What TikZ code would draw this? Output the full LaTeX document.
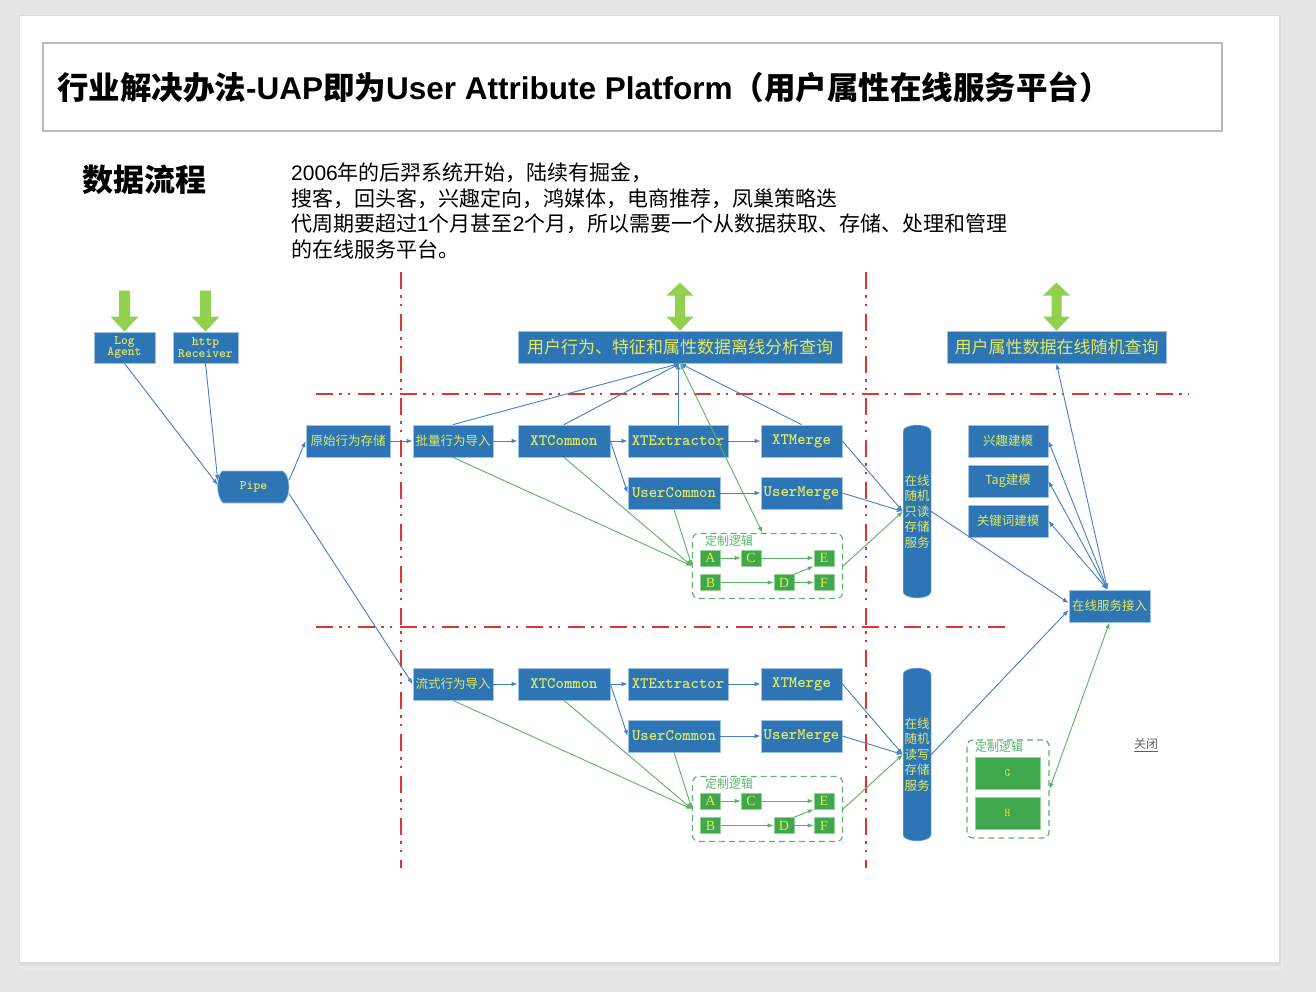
\documentclass[tikz,border=0pt]{standalone}
\usepackage{fontspec}
\setmainfont{Liberation Sans}
\newfontfamily\cjk{Noto Sans CJK SC}
\newfontfamily\tmsfont{Liberation Serif}
\usetikzlibrary{arrows.meta,calc}
\definecolor{bgray}{RGB}{229,229,229}
\definecolor{boxblue}{RGB}{46,117,182}
\definecolor{boxedge}{RGB}{157,195,230}
\definecolor{boxtext}{RGB}{225,235,95}
\definecolor{linkblue}{RGB}{68,128,196}
\definecolor{linkgreen}{RGB}{92,178,100}
\definecolor{cgreen}{RGB}{64,168,76}
\definecolor{cgreenedge}{RGB}{150,210,150}
\definecolor{dashgreen}{RGB}{90,180,110}
\definecolor{arrgreen}{RGB}{146,208,80}
\definecolor{redline}{RGB}{222,52,52}
\tikzset{
  bbox/.style={fill=boxblue, draw=boxedge, line width=0.8pt, text=boxtext, inner sep=0pt, minimum height=32pt, align=center},
  cnl/.style={font=\cjk\fontsize{12.5}{14}\selectfont},
  enl/.style={font=\ttfamily\bfseries\fontsize{16}{18}\selectfont},
  gbox/.style={fill=cgreen, draw=cgreenedge, line width=0.6pt, text=boxtext, inner sep=0pt, minimum width=20pt, minimum height=16pt, font=\tmsfont\fontsize{14}{14}\selectfont},
  custbox/.style={draw=dashgreen, line width=1.2pt, dash pattern=on 6pt off 4pt, rounded corners=6pt, inner sep=0pt},
  custlbl/.style={text=dashgreen, font=\cjk\fontsize{12}{12}\selectfont, inner sep=0pt, anchor=west},
  para/.style={font=\cjk\fontsize{21}{21}\selectfont, inner sep=0pt, anchor=west},
  conn/.style={draw=linkblue, line width=0.9pt, -{Latex[length=6pt,width=4.5pt]}},
  connboth/.style={draw=linkblue, line width=0.9pt, {Latex[length=6pt,width=4.5pt]}-{Latex[length=6pt,width=4.5pt]}},
  gconn/.style={draw=linkgreen, line width=0.9pt, -{Latex[length=6pt,width=4.5pt]}},
  gboth/.style={draw=linkgreen, line width=0.9pt, {Latex[length=6pt,width=4.5pt]}-{Latex[length=6pt,width=4.5pt]}},
  redsep/.style={draw=redline, line width=2pt, dash pattern=on 17pt off 6pt on 2.5pt off 6pt on 2.5pt off 8pt},
  downarr/.pic={\fill[arrgreen] (-5.5,-41) -- (5.5,-41) -- (5.5,-15) -- (14,-15) -- (0,0) -- (-14,-15) -- (-5.5,-15) -- cycle;},
  updownarr/.pic={\fill[arrgreen] (0,0) -- (13.5,-14) -- (5,-14) -- (5,-35) -- (13.5,-35) -- (0,-48) -- (-13.5,-35) -- (-5,-35) -- (-5,-14) -- (-13.5,-14) -- cycle;}
}
\begin{document}
\begin{tikzpicture}[x=1pt,y=-1pt]
\useasboundingbox (0,0) rectangle (1316,992);
% page
\fill[bgray] (0,0) rectangle (1316,992);
\fill[gray!18] (21,18) rectangle (1283,970);
\fill[gray!26] (20,17) rectangle (1281,966);
\fill[white, draw=gray!30, line width=0.6pt] (19,15) rectangle (1279,962);
\draw[gray!55, line width=1.8pt] (43,43) rectangle (1222,131);
\node[inner sep=0pt, anchor=west, font=\fontsize{31.5}{36}\selectfont\bfseries] (title) at (57,87)
  {{\cjk 行业解决办法}-UAP{\cjk 即为}User Attribute Platform{\cjk （用户属性在线服务平台）}};
\node[inner sep=0pt, anchor=west, font=\cjk\bfseries\fontsize{31}{31}\selectfont] (flow) at (82,180) {数据流程};
\node[para] (p1) at (291,173) {{\rmfamily 2006}年的后羿系统开始，陆续有掘金，};
\node[para] (p2) at (291,199) {搜客，回头客，兴趣定向，鸿媒体，电商推荐，凤巢策略迭};
\node[para] (p3) at (291,224) {代周期要超过{\rmfamily 1}个月甚至{\rmfamily 2}个月，所以需要一个从数据获取、存储、处理和管理};
\node[para] (p4) at (291,249) {的在线服务平台。};
% red separators
\draw[redsep] (401,272) -- (401,868);
\draw[redsep] (866,272) -- (866,868);
\draw[redsep] (316,394) -- (1188,394);
\draw[redsep] (316,627) -- (1010,627);
% left sources
\node[bbox, font=\ttfamily\bfseries\fontsize{13}{11.5}\selectfont, minimum width=61pt, minimum height=31pt] (logA) at (124.5,347.5) {Log\\Agent};
\node[bbox, font=\ttfamily\bfseries\fontsize{13}{11.5}\selectfont, minimum width=65pt, minimum height=31pt] (http) at (205.5,347.5) {http\\Receiver};
\pic at (logA.north) {downarr};
\pic at (http.north) {downarr};
\fill[boxblue, draw=boxedge, line width=0.6pt] (222,471) -- (283,471) .. controls (291,477) and (291,497) .. (283,503) -- (223,503) .. controls (216,497) and (216,477) .. (222,471) -- cycle;
\node[text=boxtext, font=\ttfamily\bfseries\fontsize{13}{12}\selectfont, inner sep=0pt, minimum width=71pt, minimum height=32pt] (pipe) at (253.5,487) {Pipe};
\node[bbox, cnl, minimum width=84pt] (raw) at (348,441) {原始行为存储};
% top query boxes
\node[bbox, font=\cjk\fontsize{17}{17}\selectfont, minimum width=324pt] (off) at (680,347) {用户行为、特征和属性数据离线分析查询};
\node[bbox, font=\cjk\fontsize{17}{17}\selectfont, minimum width=219pt] (onq) at (1056.5,347) {用户属性数据在线随机查询};
\pic at (off.north) {updownarr};
\pic at (onq.north) {updownarr};
% upper batch row
\node[bbox, cnl, minimum width=80pt] (batch) at (453,441) {批量行为导入};
\node[bbox, enl, minimum width=92pt] (xtc1) at (564,441) {XTCommon};
\node[bbox, enl, minimum width=100pt] (xte1) at (678,441) {XTExtractor};
\node[bbox, enl, minimum width=81pt] (xtm1) at (801.5,441) {XTMerge};
\node[bbox, enl, minimum width=92pt] (uc1) at (674,493) {UserCommon};
\node[bbox, enl, minimum width=81pt] (um1) at (801.5,493) {UserMerge};
\node[custbox, minimum width=150pt, minimum height=65pt] (cust1) at (767.5,566) {};
\node[custlbl] (cl1) at (705,541) {定制逻辑};
\node[gbox] (A1) at (710.5,558) {A};
\node[gbox] (C1) at (751,558) {C};
\node[gbox] (E1) at (824,558) {E};
\node[gbox] (B1) at (710.5,582.5) {B};
\node[gbox] (D1) at (784,582.5) {D};
\node[gbox] (F1) at (824,582.5) {F};
% lower stream row
\node[bbox, cnl, minimum width=80pt] (stream) at (453,684) {流式行为导入};
\node[bbox, enl, minimum width=92pt] (xtc2) at (564,684) {XTCommon};
\node[bbox, enl, minimum width=100pt] (xte2) at (678,684) {XTExtractor};
\node[bbox, enl, minimum width=81pt] (xtm2) at (801.5,684) {XTMerge};
\node[bbox, enl, minimum width=92pt] (uc2) at (674,736) {UserCommon};
\node[bbox, enl, minimum width=81pt] (um2) at (801.5,736) {UserMerge};
\node[custbox, minimum width=150pt, minimum height=65pt] (cust2) at (767.5,809) {};
\node[custlbl] (cl2) at (705,784) {定制逻辑};
\node[gbox] (A2) at (710.5,801) {A};
\node[gbox] (C2) at (751,801) {C};
\node[gbox] (E2) at (824,801) {E};
\node[gbox] (B2) at (710.5,825.5) {B};
\node[gbox] (D2) at (784,825.5) {D};
\node[gbox] (F2) at (824,825.5) {F};
% cylinders
\fill[boxblue, draw=boxedge, line width=0.5pt] (903,431) -- (903,592) arc[start angle=180, end angle=360, x radius=14pt, y radius=6pt] -- (931,431) arc[start angle=0, end angle=180, x radius=14pt, y radius=6pt] -- cycle;
\node[text=boxtext, font=\cjk\fontsize{12.5}{15.5}\selectfont, align=center, inner sep=0pt, minimum width=28pt, minimum height=173pt] (cylA) at (917,511.5) {在线\\随机\\只读\\存储\\服务};
\fill[boxblue, draw=boxedge, line width=0.5pt] (903,674) -- (903,835) arc[start angle=180, end angle=360, x radius=14pt, y radius=6pt] -- (931,674) arc[start angle=0, end angle=180, x radius=14pt, y radius=6pt] -- cycle;
\node[text=boxtext, font=\cjk\fontsize{12.5}{15.5}\selectfont, align=center, inner sep=0pt, minimum width=28pt, minimum height=173pt] (cylB) at (917,754.5) {在线\\随机\\读写\\存储\\服务};
% right side
\node[bbox, cnl, minimum width=80pt] (xq) at (1008,441) {兴趣建模};
\node[bbox, cnl, minimum width=80pt] (tag) at (1008,481) {Tag建模};
\node[bbox, cnl, minimum width=80pt] (kw) at (1008,521) {关键词建模};
\node[bbox, cnl, minimum width=81pt] (acc) at (1109.5,606) {在线服务接入};
\node[custbox, minimum width=82pt, minimum height=98pt] (cust3) at (1008,789) {};
\node[custlbl] (cl3) at (975,747) {定制逻辑};
\node[gbox, minimum width=65pt, minimum height=32pt, font=\ttfamily\fontsize{11}{11}\selectfont] (G) at (1007.5,773) {G};
\node[gbox, minimum width=65pt, minimum height=32pt, font=\ttfamily\fontsize{11}{11}\selectfont] (H) at (1007.5,813) {H};
\node[text=gray!75!black, inner sep=0pt, font=\cjk\fontsize{12}{12}\selectfont] (close) at (1146,745) {\underline{关闭}};
% connectors: sources
\draw[conn] (logA.south) -- ([yshift=2pt]pipe.west);
\draw[conn] (http.south) -- ([yshift=6pt]pipe.west);
\draw[conn] ([yshift=7pt]pipe.east) -- (raw.west);
\draw[conn] ([yshift=-7pt]pipe.east) -- (stream.west);
\draw[conn] (raw.east) -- (batch.west);
% upper row
\draw[conn] (batch.east) -- (xtc1.west);
\draw[conn] (xtc1.east) -- (xte1.west);
\draw[conn] (xte1.east) -- (xtm1.west);
\draw[conn] (xtc1.east) -- (uc1.west);
\draw[conn] (uc1.east) -- (um1.west);
\draw[conn] (batch.north) -- (off.south);
\draw[conn] (xtc1.north) -- (off.south);
\draw[conn] (xte1.north) -- (xte1.north |- off.south);
\draw[conn] (xtm1.north) -- (off.south);
\draw[gboth] ([xshift=-5pt]cust1.north) -- (off.south);
\draw[gconn] (batch.south) -- (cust1.west);
\draw[gconn] (xtc1.south) -- (cust1.west);
\draw[gconn] (uc1.south) -- (cust1.west);
\draw[conn] (xtm1.east) -- (cylA.west);
\draw[conn] (um1.east) -- (cylA.west);
\draw[gconn] (cust1.east) -- (cylA.west);
\draw[gconn] (A1.east) -- (C1.west);
\draw[gconn] (C1.east) -- (E1.west);
\draw[gconn] (B1.east) -- (D1.west);
\draw[gconn] (D1.east) -- (F1.west);
\draw[gconn] (D1.north east) -- (E1.south west);
% lower row
\draw[conn] (stream.east) -- (xtc2.west);
\draw[conn] (xtc2.east) -- (xte2.west);
\draw[conn] (xte2.east) -- (xtm2.west);
\draw[conn] (xtc2.east) -- (uc2.west);
\draw[conn] (uc2.east) -- (um2.west);
\draw[gconn] (stream.south) -- (cust2.west);
\draw[gconn] (xtc2.south) -- (cust2.west);
\draw[gconn] (uc2.south) -- (cust2.west);
\draw[conn] (xtm2.east) -- (cylB.west);
\draw[conn] (um2.east) -- (cylB.west);
\draw[gconn] (cust2.east) -- (cylB.west);
\draw[gconn] (A2.east) -- (C2.west);
\draw[gconn] (C2.east) -- (E2.west);
\draw[gconn] (B2.east) -- (D2.west);
\draw[gconn] (D2.east) -- (F2.west);
\draw[gconn] (D2.north east) -- (E2.south west);
% online side
\draw[conn] (cylA.east) -- ([yshift=3pt]acc.west);
\draw[conn] (cylB.east) -- ([yshift=-4pt]acc.west);
\draw[connboth] ([xshift=-2pt]acc.north) -- (xq.east);
\draw[connboth] ([xshift=-2pt]acc.north) -- (tag.east);
\draw[connboth] ([xshift=-2pt]acc.north) -- (kw.east);
\draw[connboth] ([xshift=-2pt]acc.north) -- (onq.south);
\draw[gboth] (acc.south) -- (cust3.east);
\end{tikzpicture}
\end{document}
